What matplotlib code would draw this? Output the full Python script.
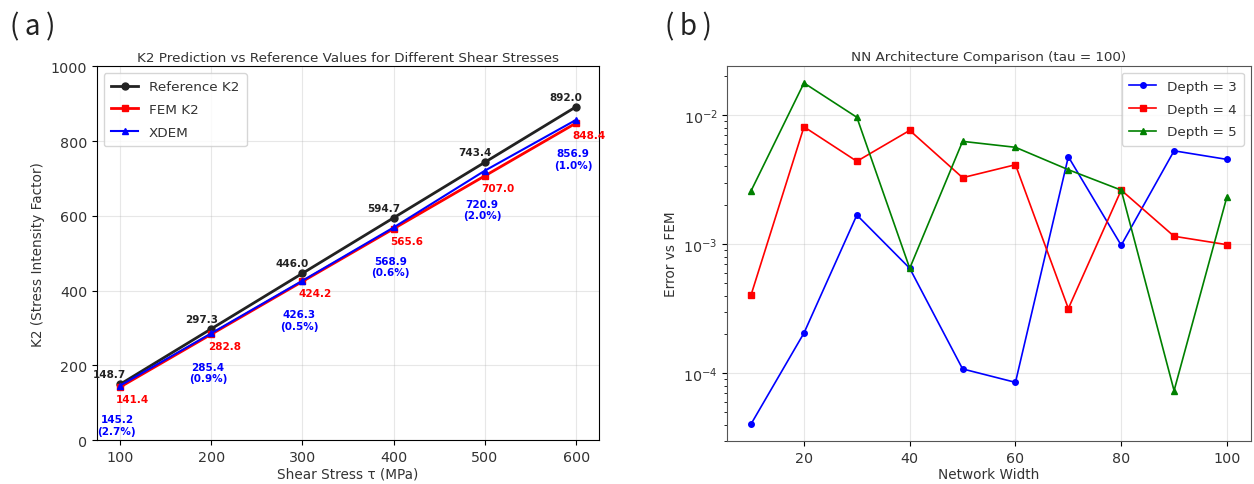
import numpy as np
import matplotlib
matplotlib.use("Agg")
import matplotlib.pyplot as plt

# K2 comparison data
tau = [100, 200, 300, 400, 500, 600]
k2_ref = [148.7, 297.3, 446.0, 594.7, 743.4, 892.0]
k2_fem = [141.4, 282.8, 424.2, 565.6, 707.0, 848.4]
k2_xdem = [145.2, 285.4, 426.3, 568.9, 720.9, 856.9]

# NN architecture sweep (tau = 100)
widths = [10, 20, 30, 40, 50, 60, 70, 80, 90, 100]
err_d3 = [4.05e-5, 2.05e-4, 1.68e-3, 6.5e-4, 1.08e-4, 8.5e-5, 4.75e-3, 9.8e-4, 5.28e-3, 4.53e-3]
err_d4 = [4.05e-4, 8.1e-3, 4.38e-3, 7.6e-3, 3.27e-3, 4.12e-3, 3.17e-4, 2.62e-3, 1.15e-3, 9.9e-4]
err_d5 = [2.59e-3, 1.77e-2, 9.6e-3, 6.5e-4, 6.25e-3, 5.62e-3, 3.77e-3, 2.62e-3, 7.33e-5, 2.33e-3]

plt.rcParams["text.color"] = "#333333"
plt.rcParams["axes.labelcolor"] = "#333333"
plt.rcParams["xtick.labelcolor"] = "#333333"
plt.rcParams["ytick.labelcolor"] = "#333333"

fig = plt.figure(figsize=(12.54, 4.85), dpi=100)
ax1 = fig.add_axes([0.0774, 0.0907, 0.4003, 0.7705])
ax2 = fig.add_axes([0.580, 0.0887, 0.4174, 0.7733])

def px(v):
    # pixel offset -> points
    return v * 72.0 / fig.dpi

# --- left: K2 vs shear stress ---
ax1.plot(tau, k2_ref, "-o", color="#222222", lw=2, ms=5, label="Reference K2")
ax1.plot(tau, k2_fem, "-s", color="red", lw=2, ms=5, label="FEM K2")
ax1.plot(tau, k2_xdem, "-^", color="blue", lw=1.5, ms=5, label="XDEM")

for t, r, f, x in zip(tau, k2_ref, k2_fem, k2_xdem):
    ax1.annotate(f"{r:.1f}", (t, r), xytext=(px(-10), px(10)), textcoords="offset points",
                 ha="center", va="center", fontsize=7.5, fontweight="bold", color="#222222")
    ax1.annotate(f"{f:.1f}", (t, f), xytext=(px(13), px(-12)), textcoords="offset points",
                 ha="center", va="center", fontsize=7.5, fontweight="bold", color="red")
    pct = abs(x - f) / f * 100
    ax1.annotate(f"{x:.1f}\n({pct:.1f}%)", (t, x), xytext=(px(-3), px(-39)),
                 textcoords="offset points", ha="center", va="center",
                 fontsize=7.5, fontweight="bold", color="blue")

ax1.set_ylim(0, 1000)
ax1.set_xlabel("Shear Stress τ (MPa)", fontsize=9.8, labelpad=2)
ax1.set_ylabel("K2 (Stress Intensity Factor)", fontsize=9.8)
ax1.set_title("K2 Prediction vs Reference Values for Different Shear Stresses", fontsize=9.7, pad=4)
ax1.tick_params(labelsize=10.3)
ax1.grid(True, alpha=0.3)
ax1.legend(loc="upper left", fontsize=9.7, labelspacing=0.72, borderpad=0.55)

# --- right: error vs network width ---
ax2.semilogy(widths, err_d3, "-o", color="blue", lw=1.2, ms=4, label="Depth = 3")
ax2.semilogy(widths, err_d4, "-s", color="red", lw=1.2, ms=4, label="Depth = 4")
ax2.semilogy(widths, err_d5, "-^", color="green", lw=1.2, ms=4, label="Depth = 5")
ax2.set_xlabel("Network Width", fontsize=9.8, labelpad=2)
ax2.set_ylabel("Error vs FEM", fontsize=9.8)
ax2.set_title("NN Architecture Comparison (tau = 100)", fontsize=9.7, pad=4)
ax2.tick_params(labelsize=10.3)
ax2.grid(True, alpha=0.3)
ax2.legend(loc="upper right", fontsize=9.7, labelspacing=0.72, borderpad=0.55)
for s in ax2.spines.values():
    s.set_color("#555555")

# panel tags
tag = ["Noto Sans CJK JP", "DejaVu Sans"]
fig.text(0.008, 0.975, "(\u2009a\u2009)", fontsize=20, va="top", ha="left", family=tag, color="#222222")
fig.text(0.530, 0.975, "(\u2009b\u2009)", fontsize=20, va="top", ha="left", family=tag, color="#222222")

fig.savefig("out.png", dpi=100)
